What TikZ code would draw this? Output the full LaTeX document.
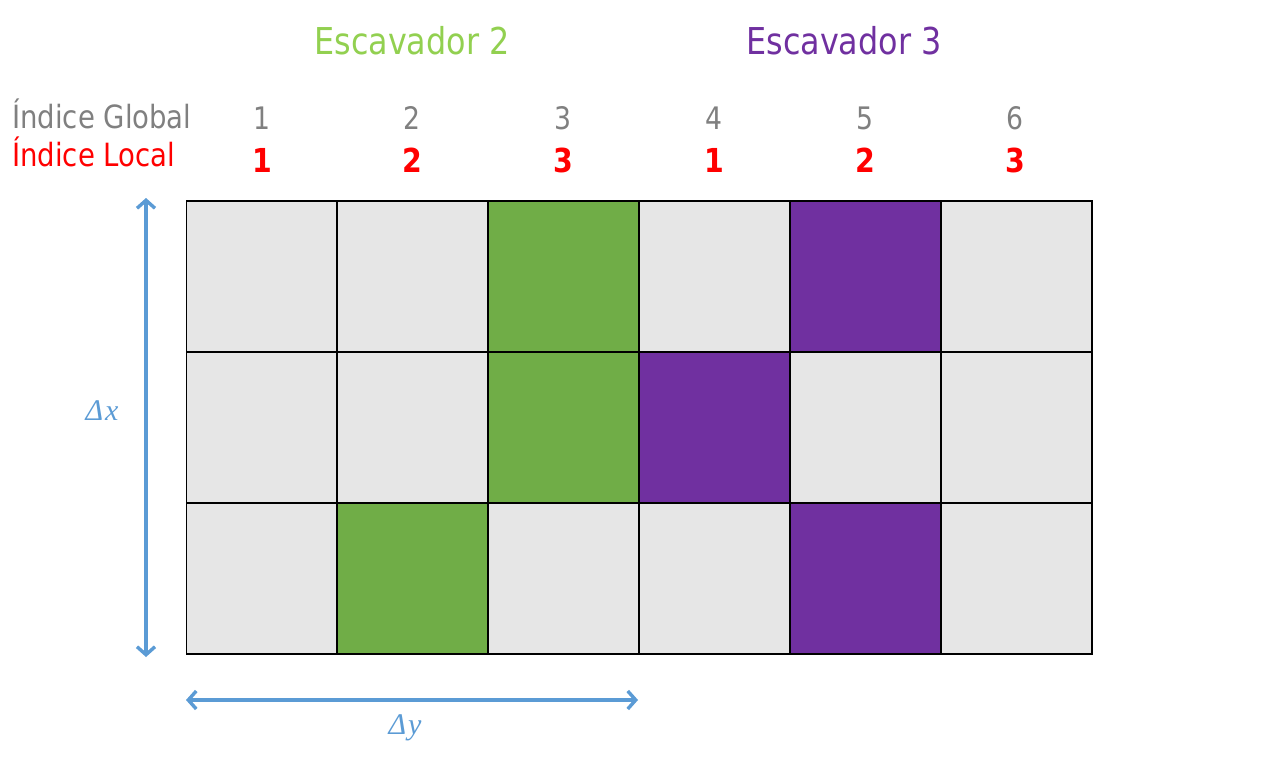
\documentclass[tikz,border=0pt]{standalone}
\usepackage{fontspec}
\setmainfont[FakeStretch=0.86]{DejaVu Sans}
\newfontfamily\dimfont{Liberation Serif}
\usetikzlibrary{arrows.meta}
\definecolor{cellgray}{HTML}{E6E6E6}
\definecolor{cellgreen}{HTML}{70AD47}
\definecolor{cellpurple}{HTML}{7030A0}
\definecolor{txtgreen}{HTML}{92D050}
\definecolor{txtgray}{HTML}{808080}
\definecolor{arrowblue}{HTML}{5B9BD5}
\tikzset{
  cell/.style={draw=black, line width=1.6pt, minimum width=151pt, minimum height=151pt, inner sep=0pt, fill=cellgray},
  gcell/.style={cell, fill=cellgreen},
  pcell/.style={cell, fill=cellpurple},
  glob/.style={text=txtgray, font=\fontsize{31}{36}\selectfont, inner sep=0pt},
  loc/.style={text=red, font=\fontsize{33}{38}\selectfont\bfseries, inner sep=0pt},
  dimarrow/.style={draw=arrowblue, line width=3.4pt, {Straight Barb[length=8pt,width=18pt,line width=3.4pt]}-{Straight Barb[length=8pt,width=18pt,line width=3.4pt]}},
  dimlabel/.style={text=arrowblue, font=\dimfont\itshape\fontsize{30}{34}\selectfont, inner sep=0pt},
}
\begin{document}
\begin{tikzpicture}[x=1pt, y=-1pt]
\useasboundingbox (0,0) rectangle (1272,765);
% cells
\foreach \r/\cy in {1/276.5, 2/427.5, 3/578.5} {
  \foreach \c/\cx in {1/262, 2/412.5, 3/563.5, 4/714.5, 5/865.5, 6/1016.5} {
    \node[cell] (c-\r-\c) at (\cx,\cy) {};
  }
}
\node[gcell] (g1) at (563.5,276.5) {};
\node[gcell] (g2) at (563.5,427.5) {};
\node[gcell] (g3) at (412.5,578.5) {};
\node[pcell] (p1) at (865.5,276.5) {};
\node[pcell] (p2) at (714.5,427.5) {};
\node[pcell] (p3) at (865.5,578.5) {};
% titles
\node[text=txtgreen, font=\fontsize{37}{42}\selectfont, inner sep=0pt] (esc2) at (412,41) {Escavador 2};
\node[text=cellpurple, font=\fontsize{37}{42}\selectfont, inner sep=0pt] (esc3) at (844,41) {Escavador 3};
% index labels
\node[text=txtgray, font=\fontsize{32}{36}\selectfont, inner sep=0pt, anchor=base west] (lglob) at (12,129) {Índice Global};
\node[text=red, font=\fontsize{32}{36}\selectfont, inner sep=0pt, anchor=base west] (lloc) at (12,167) {Índice Local};
\foreach \c/\cx/\l in {1/262/1, 2/412/2, 3/563/3, 4/714/1, 5/865/2, 6/1015/3} {
  \node[glob, anchor=base] (gi-\c) at (\cx,130) {\c};
  \node[loc, anchor=base] (li-\c) at (\cx,172) {\l};
}
% dimension arrows
\coordinate (vtop) at (146,198);
\coordinate (vbot) at (146,657);
\coordinate (hl) at (186,700);
\coordinate (hr) at (638,700);
\draw[dimarrow] (vtop) -- (vbot);
\draw[dimarrow] (hl) -- (hr);
\node[dimlabel] (dx) at (102,411) {Δ\kern2pt x};
\node[dimlabel] (dy) at (405,728) {Δ\kern2pt y};
\end{tikzpicture}
\end{document}
